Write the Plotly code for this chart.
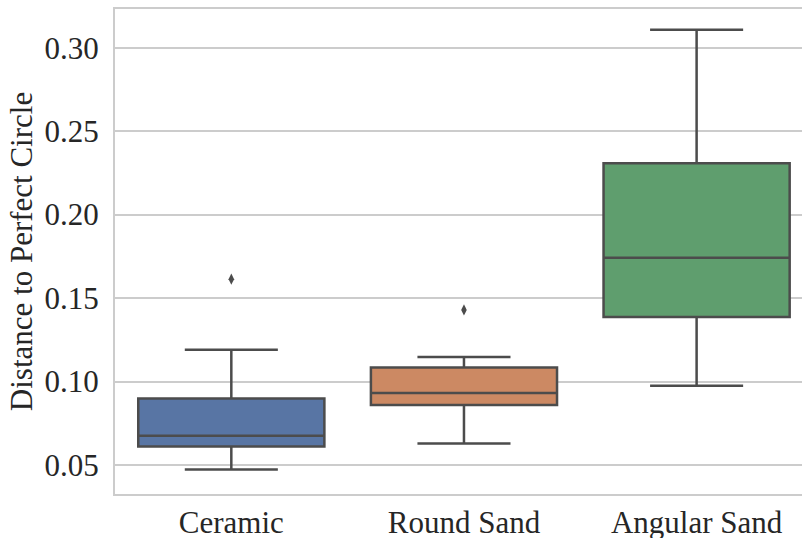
import plotly.graph_objects as go

categories = ["Ceramic", "Round Sand", "Angular Sand"]
q1_vals = [0.0611, 0.0860, 0.1387]
median_vals = [0.0675, 0.0931, 0.1741]
q3_vals = [0.0898, 0.1084, 0.2308]
lower_whisker = [0.0473, 0.0628, 0.0974]
upper_whisker = [0.1191, 0.1147, 0.3108]
outlier_cats = ["Ceramic", "Round Sand"]
outlier_vals = [0.1613, 0.1429]
colors = ["#5875a4", "#cc8963", "#5f9e6e"]
tick_vals = [0.05, 0.10, 0.15, 0.20, 0.25, 0.30]
tick_text = ["0.05", "0.10", "0.15", "0.20", "0.25", "0.30"]

line_col = "#4c4c4c"
font_family = "Liberation Serif"
fsize = 31

fig = go.Figure()
for i, cat in enumerate(categories):
    fig.add_trace(go.Box(
        x=[cat], q1=[q1_vals[i]], median=[median_vals[i]], q3=[q3_vals[i]],
        lowerfence=[lower_whisker[i]], upperfence=[upper_whisker[i]],
        fillcolor=colors[i], line=dict(color=line_col, width=2.5),
        width=0.8, whiskerwidth=0.5, boxpoints=False, showlegend=False,
        hoverinfo="skip",
    ))

fig.add_trace(go.Scatter(
    x=outlier_cats, y=outlier_vals, mode="markers",
    marker=dict(symbol="diamond-tall", size=8, color=line_col),
    showlegend=False, hoverinfo="skip",
))

fig.update_layout(
    width=802, height=538,
    margin=dict(l=115, r=0, t=9, b=44),
    paper_bgcolor="white", plot_bgcolor="white",
    font=dict(family=font_family, size=fsize, color="#262626"),
    boxmode="overlay",
)
fig.update_xaxes(
    type="category", categoryorder="array", categoryarray=categories,
    range=[-0.5, 2.453], automargin=False,
    showline=True, linecolor="#cccccc", linewidth=2, mirror=True,
    showgrid=False, ticks="", ticklabelstandoff=0,
    tickfont=dict(family=font_family, size=fsize),
)
fig.update_yaxes(
    range=[0.0326, 0.3232], automargin=False,
    tickvals=tick_vals, ticktext=tick_text,
    showline=True, linecolor="#cccccc", linewidth=2,
    showgrid=True, gridcolor="#cccccc", gridwidth=1.5,
    zeroline=False, ticks="", ticklabelstandoff=8,
    tickfont=dict(family=font_family, size=fsize),
    title=dict(text="Distance to Perfect Circle", font=dict(family=font_family, size=fsize), standoff=3),
)

fig.write_html("out.html", config={"displayModeBar": False},
               post_script="document.body.style.margin='0';")
